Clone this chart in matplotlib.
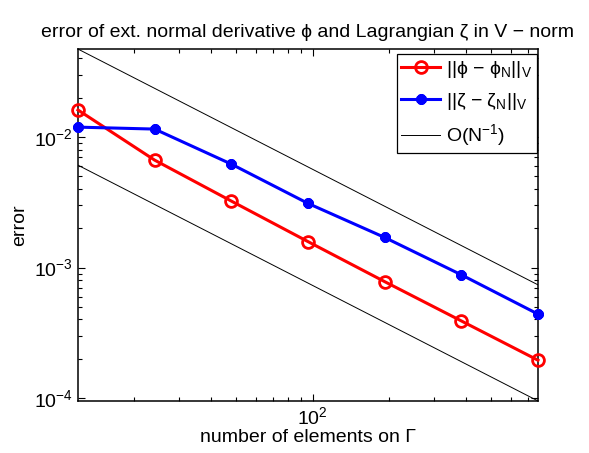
import numpy as np
import matplotlib
matplotlib.use('Agg')
import matplotlib.pyplot as plt

plt.rcParams['font.family'] = ['Liberation Sans', 'DejaVu Sans']
plt.rcParams['mathtext.fontset'] = 'custom'
plt.rcParams['mathtext.rm'] = 'Liberation Sans'
plt.rcParams['mathtext.it'] = 'Liberation Sans'

# number of boundary elements
N = [12, 24, 48, 96, 192, 384, 768]
# errors
err_phi = [0.0161, 0.00665, 0.00323, 0.00158, 0.00078, 0.00039, 0.000195]
err_zeta = [0.0119, 0.0115, 0.0062, 0.0031, 0.0017, 0.00088, 0.00044]
# O(1/N) reference constants
c_upper = 0.566
c_lower = 0.073

fig = plt.figure(figsize=(5.89, 4.53), dpi=100)
ax = fig.add_axes([0.1324, 0.1148, 0.781, 0.777])

Na = np.array(N, dtype=float)
ax.loglog(N, err_phi, '-o', color='red', lw=2.2, ms=8.5, mew=2,
          mfc='none', clip_on=False, zorder=4,
          label='||ϕ − ϕ$_\\mathregular{N}$||$_\\mathregular{V}$')
ax.loglog(N, err_zeta, '-', color='blue', lw=2.2, marker=(8, 2, 0), ms=7.5,
          mew=2.6, clip_on=False, zorder=4,
          label='||ζ − ζ$_\\mathregular{N}$||$_\\mathregular{V}$')
ax.loglog(N, c_upper / Na, '-', color='black', lw=0.7,
          label='O(N$^\\mathregular{-1}$)')
ax.loglog(N, c_lower / Na, '-', color='black', lw=0.7)

ax.set_xlim(12, 768)
ax.set_ylim(9.5e-5, 0.0472)

ax.tick_params(which='both', direction='in', top=True, right=True,
               labelsize=14, width=0.8)
ax.tick_params(which='major', length=5)
ax.tick_params(which='minor', length=3)
for s in ax.spines.values():
    s.set_linewidth(1.1)

ax.set_title('error of ext. normal derivative ϕ and Lagrangian ζ in V − norm',
             fontsize=14, pad=9)
ax.set_xlabel('number of elements on Γ', fontsize=14, labelpad=1)
ax.set_ylabel('error', fontsize=14, labelpad=4)

leg = ax.legend(loc='upper right', fontsize=14, fancybox=False,
                edgecolor='black', framealpha=1, handlelength=2.0,
                bbox_to_anchor=(0.998, 0.985),
                borderaxespad=0, labelspacing=0.55, borderpad=0.25,
                handletextpad=0.3)
leg.get_frame().set_linewidth(0.9)

fig.savefig('out.png', dpi=100)
